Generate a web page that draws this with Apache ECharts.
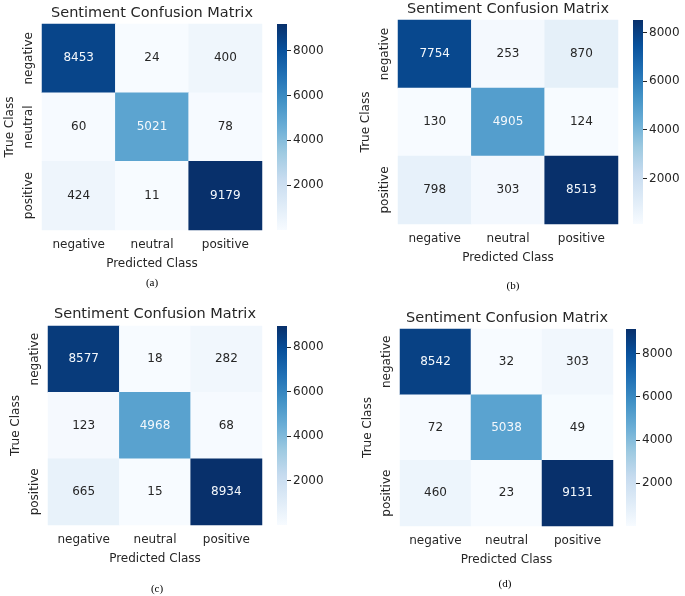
<!DOCTYPE html>
<html>
<head>
<meta charset="utf-8">
<script src="https://cdn.jsdelivr.net/npm/echarts@6/dist/echarts.min.js"></script>
<style>
  html, body { margin: 0; padding: 0; background: #fff; }
  #chart { width: 685px; height: 596px; }
</style>
</head>
<body>
<div id="chart"></div>
<script>
const classes = ["negative", "neutral", "positive"];
const matrixA = [[8453, 24, 400], [60, 5021, 78], [424, 11, 9179]];
const matrixB = [[7754, 253, 870], [130, 4905, 124], [798, 303, 8513]];
const matrixC = [[8577, 18, 282], [123, 4968, 68], [665, 15, 8934]];
const matrixD = [[8542, 32, 303], [72, 5038, 49], [460, 23, 9131]];
const matrices = [matrixA, matrixB, matrixC, matrixD];
const captions = ["(a)", "(b)", "(c)", "(d)"];
const colorbarTicks = [2000, 4000, 6000, 8000];

// matplotlib "Blues"
const blues = ["#f7fbff", "#deebf7", "#c6dbef", "#9ecae1", "#6baed6",
               "#4292c6", "#2171b5", "#08519c", "#08306b"];

// where each panel sits on the page (heatmap box, colorbar, title, caption)
const panels = [
  { l: 42, r: 262, t: 24, b: 230, cb: 277, tx: 152, ty: 13, cx: 152, cy: 283 },
  { l: 398, r: 618, t: 20, b: 224, cb: 633, tx: 508, ty: 9, cx: 513, cy: 286 },
  { l: 48, r: 262, t: 326, b: 525, cb: 277, tx: 155, ty: 314, cx: 157, cy: 589 },
  { l: 400, r: 613, t: 329, b: 526, cb: 626, tx: 507, ty: 318, cx: 505, cy: 584 }
];

const font = "DejaVu Sans";
const ink = "#262626";

// colorbar fill, dark at the top
const barGradient = new echarts.graphic.LinearGradient(0, 0, 0, 1,
  blues.slice().reverse().map(function (c, k) {
    return { offset: k / (blues.length - 1), color: c };
  }));

let chart = echarts.init(document.getElementById("chart"));

let grid = [], xAxis = [], yAxis = [], series = [], visualMap = [], graphic = [];

panels.forEach(function (p, i) {
  let m = matrices[i];
  let flat = [].concat.apply([], m);
  let lo = Math.min.apply(null, flat);
  let hi = Math.max.apply(null, flat);

  grid.push({ left: p.l, top: p.t, width: p.r - p.l, height: p.b - p.t });
  grid.push({ left: p.cb, top: p.t, width: 10, height: p.b - p.t });

  xAxis.push({
    gridIndex: 2 * i,
    type: "category",
    data: classes,
    axisLine: { show: false },
    axisTick: { alignWithLabel: true, length: 4, lineStyle: { color: ink } },
    axisLabel: { fontFamily: font, fontSize: 12, color: ink, margin: 9 },
    splitLine: { show: false },
    name: "Predicted Class",
    nameLocation: "middle",
    nameGap: 28,
    nameTextStyle: { fontFamily: font, fontSize: 12, color: ink }
  });
  xAxis.push({ gridIndex: 2 * i + 1, type: "category", data: [""], show: false });

  yAxis.push({
    gridIndex: 2 * i,
    type: "category",
    data: classes,
    inverse: true,
    axisLine: { show: false },
    axisTick: { alignWithLabel: true, length: 4, lineStyle: { color: ink } },
    axisLabel: { fontFamily: font, fontSize: 12, color: ink, margin: 7, rotate: 90 },
    splitLine: { show: false },
    name: "True Class",
    nameLocation: "middle",
    nameRotate: 90,
    nameGap: 26,
    nameTextStyle: { fontFamily: font, fontSize: 12, color: ink }
  });
  yAxis.push({
    gridIndex: 2 * i + 1,
    type: "value",
    position: "right",
    min: lo,
    max: hi,
    axisLine: { show: false },
    splitLine: { show: false },
    axisTick: { show: true, length: 4, lineStyle: { color: ink }, customValues: colorbarTicks },
    axisLabel: {
      fontFamily: font, fontSize: 12, color: ink, margin: 6,
      customValues: colorbarTicks,
      formatter: function (v) { return String(v); }
    }
  });

  let data = [];
  m.forEach(function (row, y) {
    row.forEach(function (v, x) {
      let dark = (v - lo) / (hi - lo) > 0.45;
      data.push({ value: [x, y, v], label: { color: dark ? "#f4f8fc" : ink } });
    });
  });

  series.push({
    type: "heatmap",
    xAxisIndex: 2 * i,
    yAxisIndex: 2 * i,
    data: data,
    label: { show: true, fontFamily: font, fontSize: 12 },
    emphasis: { disabled: true }
  });
  // colorbar: one bar spanning the value range
  series.push({
    type: "bar",
    xAxisIndex: 2 * i + 1,
    yAxisIndex: 2 * i + 1,
    data: [hi],
    barWidth: "100%",
    silent: true,
    clip: true,
    itemStyle: { color: barGradient }
  });

  visualMap.push({
    type: "continuous",
    show: false,
    seriesIndex: 2 * i,
    min: lo,
    max: hi,
    inRange: { color: blues }
  });

  graphic.push({
    type: "text",
    x: p.tx,
    y: p.ty,
    style: {
      text: "Sentiment Confusion Matrix",
      fontFamily: font,
      fontSize: 14.5,
      fill: ink,
      align: "center",
      verticalAlign: "middle"
    }
  });
  graphic.push({
    type: "text",
    x: p.cx,
    y: p.cy,
    style: {
      text: captions[i],
      fontFamily: "Liberation Serif",
      fontSize: 11,
      fill: "#000",
      align: "center",
      verticalAlign: "middle"
    }
  });
});

let option = {
  backgroundColor: "#fff",
  animation: false,
  grid: grid,
  xAxis: xAxis,
  yAxis: yAxis,
  visualMap: visualMap,
  series: series,
  graphic: graphic
};

chart.setOption(option);
</script>
</body>
</html>
